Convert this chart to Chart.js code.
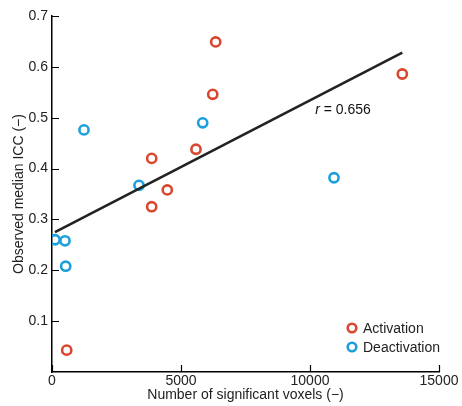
<!DOCTYPE html>
<html><head><meta charset="utf-8">
<script src="https://cdn.jsdelivr.net/npm/chart.js@4"></script>
<style>html,body{margin:0;padding:0;background:#fff}#wrap{width:462px;height:406px}</style>
</head><body><div id="wrap"><canvas id="c" width="462" height="406"></canvas></div>
<script>
const activationX = [6345, 6230, 13578, 5581, 4469, 3864, 3864, 570];
const activationY = [0.649, 0.546, 0.586, 0.438, 0.358, 0.420, 0.325, 0.043];
const deactivationX = [5841, 10930, 1240, 3372, 116, 504, 531];
const deactivationY = [0.490, 0.382, 0.476, 0.367, 0.260, 0.258, 0.208];
const fitX = [116, 13578];
const fitY = [0.275, 0.628];
const xTicks = [0, 5000, 10000, 15000];
const yTicks = [0.1, 0.2, 0.3, 0.4, 0.5, 0.6, 0.7];
const seriesNames = ['Activation', 'Deactivation'];
const rLabel = {r: 'r', rest: ' = 0.656', x: 10200, y: 0.515};

const RED = '#d8472f', BLUE = '#1c9fdb';
const FONT = '"Liberation Sans", Arial, sans-serif';
const FS = 14;
const pts = (xs, ys) => xs.map((x, i) => ({x, y: ys[i]}));

const inwardTicks = {
  id: 'inwardTicks',
  afterDraw(chart) {
    const ctx = chart.ctx, xs = chart.scales.x, ys = chart.scales.y;
    const a = chart.chartArea;
    ctx.save();
    ctx.strokeStyle = '#000'; ctx.lineWidth = 1.2;
    ctx.beginPath();
    xTicks.forEach(v => { const px = Math.round(xs.getPixelForValue(v)) + 0.5; ctx.moveTo(px, a.bottom); ctx.lineTo(px, a.bottom - 7); });
    yTicks.forEach(v => { const py = Math.round(ys.getPixelForValue(v)) + 0.5; ctx.moveTo(a.left, py); ctx.lineTo(a.left + 7, py); });
    ctx.stroke();
    // r annotation
    ctx.fillStyle = '#111';
    ctx.textBaseline = 'middle';
    const px = xs.getPixelForValue(rLabel.x), py = ys.getPixelForValue(rLabel.y);
    ctx.font = 'italic ' + FS + 'px ' + FONT;
    ctx.fillText(rLabel.r, px, py);
    const w = ctx.measureText(rLabel.r).width;
    ctx.font = FS + 'px ' + FONT;
    ctx.fillText(rLabel.rest, px + w, py);
    // legend
    const lx = 352, ly = 328, gap = 19;
    [RED, BLUE].forEach((col, i) => {
      ctx.beginPath(); ctx.strokeStyle = col; ctx.lineWidth = 2.6;
      ctx.arc(lx, ly + i * gap, 4.3, 0, Math.PI * 2); ctx.stroke();
      ctx.fillStyle = '#222'; ctx.font = FS + 'px ' + FONT;
      ctx.fillText(seriesNames[i], lx + 11, ly + i * gap + 1);
    });
    ctx.restore();
  }
};

new Chart(document.getElementById('c'), {
  type: 'scatter',
  data: {
    datasets: [
      {label: 'fit', type: 'line', data: pts(fitX, fitY), borderColor: '#222', borderWidth: 2.6, pointRadius: 0, fill: false},
      {label: seriesNames[0], data: pts(activationX, activationY), borderColor: RED, backgroundColor: 'rgba(0,0,0,0)', borderWidth: 2.6, pointRadius: 4.6},
      {label: seriesNames[1], data: pts(deactivationX, deactivationY), borderColor: BLUE, backgroundColor: 'rgba(0,0,0,0)', borderWidth: 2.6, pointRadius: 4.6}
    ]
  },
  options: {
    responsive: false, animation: false, devicePixelRatio: 1,
    layout: {padding: {top: 16, right: 23, left: 0, bottom: 0}},
    plugins: {legend: {display: false}, tooltip: {enabled: false}},
    scales: {
      x: {
        type: 'linear', min: 0, max: 15000,
        afterBuildTicks: s => { s.ticks = xTicks.map(v => ({value: v})); },
        afterFit: s => { s.height = 34; },
        grid: {display: false, drawTicks: false},
        border: {display: true, color: '#000', width: 1.5},
        ticks: {color: '#222', font: {family: FONT, size: FS}, padding: 1, maxRotation: 0, callback: v => String(v)},
        title: {display: true, text: 'Number of significant voxels (−)', color: '#222', font: {family: FONT, size: FS}, padding: {top: 0, bottom: 2}}
      },
      y: {
        type: 'linear', min: 0, max: 0.7,
        afterBuildTicks: s => { s.ticks = yTicks.map(v => ({value: v})); },
        afterFit: s => { s.width = 52; },
        grid: {display: false, drawTicks: false},
        border: {display: true, color: '#000', width: 1.5},
        ticks: {color: '#222', font: {family: FONT, size: FS}, padding: 4, callback: v => v.toFixed(1)},
        title: {display: true, text: 'Observed median ICC (−)', color: '#222', font: {family: FONT, size: FS}, padding: {top: 10.5, bottom: 0}}
      }
    }
  },
  plugins: [inwardTicks]
});
</script></body></html>
